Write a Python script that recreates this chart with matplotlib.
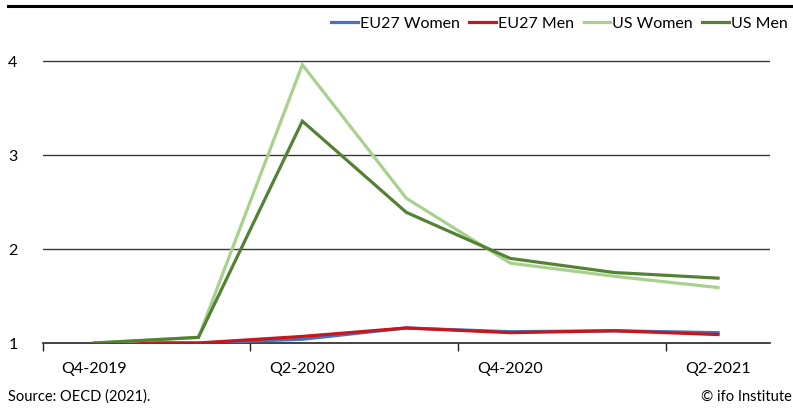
import matplotlib
matplotlib.use("Agg")
import matplotlib.pyplot as plt
from matplotlib.lines import Line2D

plt.rcParams['font.family'] = ['Lato', 'DejaVu Sans']

# quarters (only every second one is labelled on the axis)
quarters = ['Q4-2019', 'Q1-2020', 'Q2-2020', 'Q3-2020', 'Q4-2020', 'Q1-2021', 'Q2-2021']

eu_women = [1.00, 1.00, 1.04, 1.16, 1.12, 1.13, 1.11]
eu_men = [1.00, 1.00, 1.07, 1.16, 1.11, 1.13, 1.09]
us_women = [1.00, 1.06, 3.96, 2.54, 1.85, 1.71, 1.59]
us_men = [1.00, 1.06, 3.36, 2.39, 1.90, 1.75, 1.69]

series = [
    ('EU27 Women', eu_women, '#4472C4'),
    ('EU27 Men', eu_men, '#C8161D'),
    ('US Women', us_women, '#A9D18E'),
    ('US Men', us_men, '#548235'),
]

fig = plt.figure(figsize=(7.93, 4.08), dpi=100)
ax = fig.add_axes([0.0537, 0.1593, 0.9173, 0.7603])

x = list(range(len(quarters)))
for name, vals, col in series:
    ax.plot(x, vals, color=col, lw=2.3, solid_joinstyle='miter', label=name, zorder=3)

ax.set_xlim(-0.5, len(quarters) - 0.5)
ax.set_ylim(1, 4.3)

# horizontal gridlines
for v in [2, 3, 4]:
    ax.axhline(v, color='#3a3a3a', lw=1.0, zorder=1)

ax.set_yticks([1, 2, 3, 4])
ax.set_yticklabels(['1', '2', '3', '4'])
ax.tick_params(axis='y', length=0, pad=18, labelsize=11.5)

# tick marks between category pairs, labels on every second category
ax.set_xticks([-0.5, 1.5, 3.5, 5.5])
ax.set_xticklabels([])
ax.tick_params(axis='x', which='major', direction='out', length=6, width=1, color='#222222')
ax.set_xticks(x[::2], minor=True)
ax.set_xticklabels(quarters[::2], minor=True)
ax.tick_params(axis='x', which='minor', length=0, pad=14, labelsize=11.5)

for s in ['top', 'right', 'left']:
    ax.spines[s].set_visible(False)
ax.spines['bottom'].set_color('#222222')
ax.spines['bottom'].set_linewidth(1.2)

# thick rule at the top of the figure
fig.add_artist(Line2D([0.01, 1.0], [0.9865, 0.9865], color='black', lw=2.2,
                      transform=fig.transFigure))

handles = [Line2D([], [], color=c, lw=2.3) for _, _, c in series]
fig.legend(handles, [n for n, _, _ in series], loc='upper right',
           bbox_to_anchor=(1.001, 0.975), borderaxespad=0, ncol=4, frameon=False,
           fontsize=11.5, handlelength=1.65, handletextpad=0.12, columnspacing=0.62)

fig.text(0.01, 0.027, 'Source: OECD (2021).', fontsize=10.5, ha='left', va='center')
fig.text(0.998, 0.027, '\u00a9 ifo Institute', fontsize=10.5, ha='right', va='center')

fig.savefig('out.png', dpi=100)
